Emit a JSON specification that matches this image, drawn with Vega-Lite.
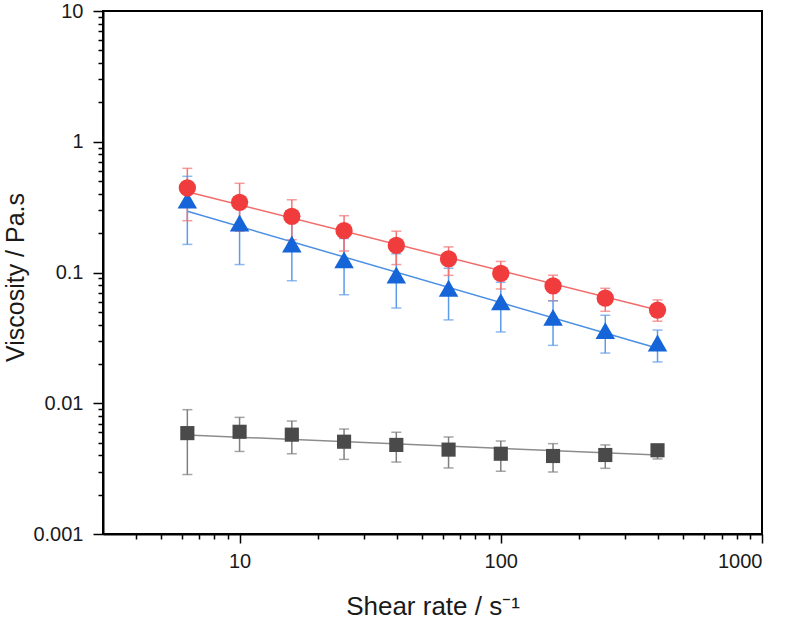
{
  "$schema": "https://vega.github.io/schema/vega-lite/v6.json",
  "width": 659,
  "height": 523,
  "autosize": {"type": "none"},
  "padding": {"left": 103, "top": 11, "right": 25, "bottom": 87},
  "config": {
    "view": {"stroke": "black", "strokeWidth": 2},
    "font": "Liberation Sans",
    "axis": {"grid": false, "domainColor": "black", "domainWidth": 2, "tickColor": "black", "labelColor": "#1a1a1a", "titleColor": "#1a1a1a", "labelFont": "Liberation Sans", "titleFont": "Liberation Sans", "titleFontWeight": "normal"}
  },
  "datasets": {
    "pts": [
      {"s": "grey", "x": 6.31, "y": 0.00591, "lo": 0.00285, "hi": 0.00893},
      {"s": "grey", "x": 10, "y": 0.00605, "lo": 0.00428, "hi": 0.0078},
      {"s": "grey", "x": 15.85, "y": 0.00575, "lo": 0.00411, "hi": 0.00731},
      {"s": "grey", "x": 25.12, "y": 0.00508, "lo": 0.00372, "hi": 0.00635},
      {"s": "grey", "x": 39.81, "y": 0.0048, "lo": 0.00355, "hi": 0.006},
      {"s": "grey", "x": 63.1, "y": 0.00442, "lo": 0.0032, "hi": 0.00552},
      {"s": "grey", "x": 100, "y": 0.00411, "lo": 0.00302, "hi": 0.00514},
      {"s": "grey", "x": 158.5, "y": 0.00395, "lo": 0.00298, "hi": 0.00491},
      {"s": "grey", "x": 251.2, "y": 0.00402, "lo": 0.00318, "hi": 0.0048},
      {"s": "grey", "x": 398.1, "y": 0.00437, "lo": 0.00375, "hi": 0.0046},
      {"s": "blue", "x": 6.31, "y": 0.358, "lo": 0.164, "hi": 0.544},
      {"s": "blue", "x": 10, "y": 0.239, "lo": 0.115, "hi": 0.354},
      {"s": "blue", "x": 15.85, "y": 0.165, "lo": 0.0865, "hi": 0.249},
      {"s": "blue", "x": 25.12, "y": 0.125, "lo": 0.0676, "hi": 0.182},
      {"s": "blue", "x": 39.81, "y": 0.0957, "lo": 0.0535, "hi": 0.139},
      {"s": "blue", "x": 63.1, "y": 0.0757, "lo": 0.0434, "hi": 0.1077},
      {"s": "blue", "x": 100, "y": 0.0598, "lo": 0.0351, "hi": 0.0841},
      {"s": "blue", "x": 158.5, "y": 0.0454, "lo": 0.0277, "hi": 0.0608},
      {"s": "blue", "x": 251.2, "y": 0.0359, "lo": 0.0242, "hi": 0.0471},
      {"s": "blue", "x": 398.1, "y": 0.0289, "lo": 0.0207, "hi": 0.0363},
      {"s": "red", "x": 6.31, "y": 0.443, "lo": 0.249, "hi": 0.626},
      {"s": "red", "x": 10, "y": 0.344, "lo": 0.207, "hi": 0.481},
      {"s": "red", "x": 15.85, "y": 0.269, "lo": 0.178, "hi": 0.36},
      {"s": "red", "x": 25.12, "y": 0.209, "lo": 0.146, "hi": 0.272},
      {"s": "red", "x": 39.81, "y": 0.161, "lo": 0.115, "hi": 0.207},
      {"s": "red", "x": 63.1, "y": 0.127, "lo": 0.095, "hi": 0.157},
      {"s": "red", "x": 100, "y": 0.0986, "lo": 0.0748, "hi": 0.1216},
      {"s": "red", "x": 158.5, "y": 0.0789, "lo": 0.0608, "hi": 0.0953},
      {"s": "red", "x": 251.2, "y": 0.0636, "lo": 0.0505, "hi": 0.0757},
      {"s": "red", "x": 398.1, "y": 0.0516, "lo": 0.0424, "hi": 0.0617}
    ],
    "fits": [
      {"s": "grey", "x": 6.31, "y": 0.00572},
      {"s": "grey", "x": 398.1, "y": 0.00402},
      {"s": "blue", "x": 6.31, "y": 0.294},
      {"s": "blue", "x": 398.1, "y": 0.0263},
      {"s": "red", "x": 6.31, "y": 0.415},
      {"s": "red", "x": 398.1, "y": 0.0516}
    ]
  },
  "layer": [
    {
      "data": {"name": "fits"},
      "mark": {"type": "line", "strokeWidth": 1.5},
      "encoding": {
        "x": {"field": "x", "type": "quantitative", "scale": {"type": "log", "domain": [3, 1000], "nice": false}, "axis": null},
        "y": {"field": "y", "type": "quantitative", "scale": {"type": "log", "domain": [0.001, 10], "nice": false}, "axis": null},
        "detail": {"field": "s"},
        "color": {"field": "s", "type": "nominal", "scale": {"domain": ["grey", "blue", "red"], "range": ["#8C8C8C", "#4A8FE3", "#F26B6B"]}, "legend": null}
      }
    },
    {
      "data": {"name": "pts"},
      "mark": {"type": "rule", "strokeWidth": 1.5},
      "encoding": {
        "x": {"field": "x", "type": "quantitative", "axis": {"orient": "bottom", "values": [4, 5, 6, 7, 8, 9, 20, 30, 40, 50, 60, 70, 80, 90, 200, 300, 400, 500, 600, 700, 800, 900], "labels": false, "domain": false, "tickSize": 5, "tickWidth": 1.5, "title": null}},
        "y": {"field": "lo", "type": "quantitative", "axis": {"orient": "left", "values": [0.002, 0.003, 0.004, 0.005, 0.006, 0.007, 0.008, 0.009, 0.02, 0.03, 0.04, 0.05, 0.06, 0.07, 0.08, 0.09, 0.2, 0.3, 0.4, 0.5, 0.6, 0.7, 0.8, 0.9, 2, 3, 4, 5, 6, 7, 8, 9], "labels": false, "domain": false, "tickSize": 5, "tickWidth": 1.5, "title": null}},
        "y2": {"field": "hi"},
        "color": {"field": "s", "type": "nominal", "scale": {"domain": ["grey", "blue", "red"], "range": ["#7F7F7F", "#5B9BEA", "#F47272"]}, "legend": null}
      }
    },
    {
      "data": {"name": "pts"},
      "mark": {"type": "tick", "orient": "horizontal", "size": 10, "thickness": 1.5},
      "encoding": {
        "x": {"field": "x", "type": "quantitative", "axis": null},
        "y": {"field": "lo", "type": "quantitative", "axis": null},
        "color": {"field": "s", "type": "nominal", "scale": {"domain": ["grey", "blue", "red"], "range": ["#7F7F7F", "#5B9BEA", "#F47272"]}, "legend": null}
      }
    },
    {
      "data": {"name": "pts"},
      "mark": {"type": "tick", "orient": "horizontal", "size": 10, "thickness": 1.5},
      "encoding": {
        "x": {"field": "x", "type": "quantitative", "axis": null},
        "y": {"field": "hi", "type": "quantitative", "axis": null},
        "color": {"field": "s", "type": "nominal", "scale": {"domain": ["grey", "blue", "red"], "range": ["#7F7F7F", "#5B9BEA", "#F47272"]}, "legend": null}
      }
    },
    {
      "data": {"name": "pts"},
      "mark": {"type": "point", "filled": true, "opacity": 1},
      "encoding": {
        "x": {"field": "x", "type": "quantitative", "axis": {"orient": "bottom", "values": [10, 100, 1000], "format": "~g", "tickSize": 9, "tickWidth": 1.5, "labelFontSize": 20, "labelPadding": 8, "title": "Shear rate / s⁻¹", "titleFontSize": 26, "titleY": 80, "titleBaseline": "alphabetic"}},
        "y": {"field": "y", "type": "quantitative", "axis": {"orient": "left", "values": [0.001, 0.01, 0.1, 1, 10], "format": "~g", "tickSize": 10, "tickWidth": 1.5, "labelFontSize": 20, "labelPadding": 10, "title": "Viscosity / Pa.s", "titleFontSize": 25, "titleX": -80, "titleY": 266, "titleBaseline": "alphabetic"}},
        "color": {"field": "s", "type": "nominal", "scale": {"domain": ["grey", "blue", "red"], "range": ["#4A4A4A", "#1565D8", "#F03C3C"]}, "legend": null},
        "shape": {"field": "s", "type": "nominal", "scale": {"domain": ["grey", "blue", "red"], "range": ["square", "triangle-up", "circle"]}, "legend": null},
        "size": {"condition": [{"test": "datum.s === 'blue'", "value": 380}, {"test": "datum.s === 'red'", "value": 300}], "value": 200}
      }
    }
  ],
  "resolve": {
    "scale": {"color": "independent"},
    "axis": {"x": "independent", "y": "independent"}
  }
}
